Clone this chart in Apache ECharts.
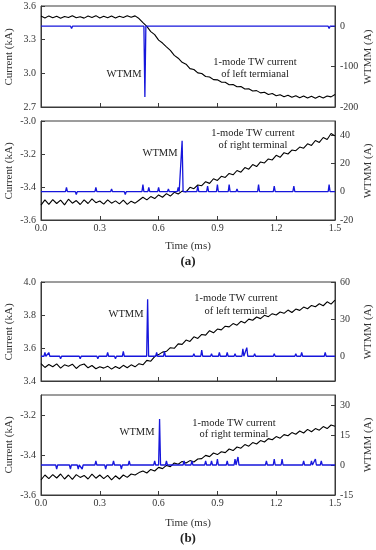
<!DOCTYPE html>
<html><head><meta charset="utf-8">
<script src="https://cdn.jsdelivr.net/npm/echarts@6/dist/echarts.min.js"></script>
<style>html,body{margin:0;padding:0;background:#fff;}#c{width:376px;height:550px;}</style>
</head><body><div id="c"></div>
<script>
// ---- data ----
const timeMs = [0,0.02,0.04,0.06,0.08,0.10,0.12,0.14,0.16,0.18,0.20,0.22,0.24,0.26,0.28,0.30,0.32,0.34,0.36,0.38,
0.40,0.42,0.44,0.46,0.48,0.50,0.52,0.54,0.56,0.58,0.60,0.62,0.64,0.66,0.68,0.70,0.72,0.74,0.76,0.78,
0.80,0.82,0.84,0.86,0.88,0.90,0.92,0.94,0.96,0.98,1.00,1.02,1.04,1.06,1.08,1.10,1.12,1.14,1.16,1.18,
1.20,1.22,1.24,1.26,1.28,1.30,1.32,1.34,1.36,1.38,1.40,1.42,1.44,1.46,1.48,1.50];

// (a) left terminal current (kA)
const curA_left = [3.510,3.494,3.512,3.496,3.508,3.490,3.506,3.497,3.514,3.495,3.505,3.492,3.510,3.498,3.514,3.493,3.508,3.496,3.511,3.494,
3.509,3.497,3.513,3.499,3.512,3.488,3.452,3.418,3.372,3.345,3.296,3.270,3.236,3.205,3.160,3.135,3.098,3.082,3.042,3.034,
3.004,2.998,2.972,2.968,2.944,2.942,2.922,2.920,2.898,2.900,2.880,2.882,2.860,2.862,2.842,2.846,2.826,2.832,2.812,2.820,
2.800,2.810,2.792,2.804,2.786,2.800,2.782,2.798,2.780,2.796,2.778,2.795,2.780,2.798,2.790,2.812];
// (a) right terminal current (kA)
const curA_right = [-3.510,-3.478,-3.505,-3.476,-3.500,-3.480,-3.508,-3.474,-3.498,-3.482,-3.506,-3.478,-3.500,-3.472,-3.495,-3.485,-3.504,-3.478,-3.498,-3.484,
-3.502,-3.480,-3.505,-3.486,-3.498,-3.480,-3.462,-3.478,-3.458,-3.470,-3.448,-3.462,-3.440,-3.455,-3.432,-3.442,-3.425,-3.430,-3.402,-3.410,
-3.388,-3.392,-3.368,-3.378,-3.350,-3.360,-3.335,-3.342,-3.318,-3.326,-3.300,-3.310,-3.282,-3.292,-3.264,-3.276,-3.248,-3.254,-3.230,-3.236,
-3.208,-3.220,-3.192,-3.200,-3.176,-3.180,-3.158,-3.165,-3.138,-3.148,-3.118,-3.130,-3.100,-3.112,-3.076,-3.090];
// (b) left terminal current (kA)
const curB_left = [3.505,3.482,3.500,3.486,3.504,3.478,3.498,3.490,3.502,3.476,3.496,3.503,3.480,3.494,3.474,3.486,3.478,3.490,3.472,3.488,
3.476,3.495,3.480,3.498,3.486,3.505,3.498,3.525,3.520,3.548,3.560,3.575,3.580,3.602,3.598,3.625,3.622,3.648,3.640,3.668,
3.658,3.682,3.678,3.705,3.692,3.715,3.710,3.732,3.728,3.748,3.738,3.762,3.752,3.775,3.768,3.788,3.778,3.798,3.790,3.808,
3.800,3.818,3.810,3.830,3.815,3.836,3.828,3.848,3.838,3.858,3.850,3.868,3.856,3.880,3.866,3.890];
// (b) right terminal current (kA)
const curB_right = [-3.525,-3.500,-3.518,-3.498,-3.515,-3.495,-3.520,-3.500,-3.522,-3.498,-3.512,-3.502,-3.520,-3.496,-3.516,-3.500,-3.518,-3.502,-3.524,-3.504,
-3.520,-3.500,-3.512,-3.495,-3.500,-3.488,-3.480,-3.490,-3.472,-3.480,-3.462,-3.468,-3.452,-3.458,-3.440,-3.446,-3.432,-3.440,-3.428,-3.435,
-3.420,-3.418,-3.402,-3.408,-3.390,-3.398,-3.384,-3.388,-3.370,-3.378,-3.360,-3.366,-3.348,-3.356,-3.338,-3.345,-3.328,-3.335,-3.318,-3.324,
-3.308,-3.316,-3.298,-3.304,-3.288,-3.296,-3.280,-3.290,-3.272,-3.284,-3.268,-3.276,-3.258,-3.268,-3.250,-3.256];

// WTMM peaks (time ms, value A)
const wtmmA_left_t = [0.156,0.24,0.40,0.53,0.79,1.05,1.29,1.47];
const wtmmA_left_v = [-6,2,2,-175,-4,-2,-3,-6];
const wtmmA_right_t = [0.04,0.13,0.18,0.23,0.28,0.36,0.43,0.52,0.55,0.60,0.65,0.70,0.72,0.80,0.85,0.90,0.96,1.00,1.03,1.11,1.19,1.29,1.34,1.40,1.47];
const wtmmA_right_v = [1,3,-2,1,3,2,-2,5,3,3,2,3,36,4,4,5,5,2,1,5,4,4,1,1,5];
const wtmmB_left_t = [0.02,0.04,0.10,0.20,0.24,0.29,0.34,0.38,0.42,0.47,0.544,0.59,0.63,0.69,0.73,0.78,0.82,0.87,0.91,0.95,0.99,1.03,1.05,1.09,1.19,1.30,1.33,1.38,1.45];
const wtmmB_left_v = [3,3,-2,-2,1,-2,3,-2,4,-1,46,3,4,1,1,2,5,2,3,3,2,6,7,2,2,2,3,1,3];
const wtmmB_right_t = [0.03,0.08,0.15,0.19,0.21,0.28,0.33,0.37,0.41,0.45,0.49,0.58,0.605,0.64,0.71,0.73,0.77,0.84,0.87,0.90,0.95,0.99,1.005,1.03,1.10,1.15,1.19,1.23,1.29,1.34,1.38,1.40,1.43];
const wtmmB_right_v = [1,-2,-2,-2,-2,2,-2,2,-2,2,1,2,23,2,1,2,2,2,2,3,2,3,4,1,1,2,3,3,1,2,2,3,2];

// axis tick labels
const xTicks = [0,0.3,0.6,0.9,1.2,1.5];
const yLeftTicks = [[2.7,3.0,3.3,3.6],[-3.6,-3.4,-3.2,-3.0],[3.4,3.6,3.8,4.0],[-3.6,-3.4,-3.2]];
const yLeftRange = [[2.7,3.6],[-3.6,-3.0],[3.4,4.0],[-3.6,-3.1]];
const yRightTicks = [[-200,-100,0],[-20,0,20,40],[0,30,60],[-15,0,15,30]];
const yRightRange = [[-200,50],[-20,50],[-20,60],[-15,35]];

const curves = [curA_left, curA_right, curB_left, curB_right];
const peaksT = [wtmmA_left_t, wtmmA_right_t, wtmmB_left_t, wtmmB_right_t];
const peaksV = [wtmmA_left_v, wtmmA_right_v, wtmmB_left_v, wtmmB_right_v];
const terminalText = ['of left termianal','of right terminal','of left terminal','of right terminal'];

// ---- layout ----
const FONT = '"Liberation Serif","DejaVu Serif",serif';
const AX = '#3a3a3a';
const BLUE = '#1616dc';
const grids = [
  {left:41, right:41, top:6, height:101},
  {left:41, right:41, top:121, height:99},
  {left:41, right:41, top:282, height:99},
  {left:41, right:41, top:395, height:100}
];
function spikeLine(ts, vs){
  const d = [[0,0]];
  const h = 0.005;
  for (let i=0;i<ts.length;i++){ d.push([ts[i]-h,0],[ts[i],vs[i]],[ts[i]+h,0]); }
  d.push([1.5,0]);
  return d;
}
const xAxes=[], yAxes=[], series=[];
grids.forEach((g,i)=>{
  g.show = true; g.borderColor = AX; g.borderWidth = 1; g.backgroundColor='transparent';
  g.containLabel = false; g.outerBoundsMode = 'none';
  const showX = (i===1||i===3);
  xAxes.push({gridIndex:i, type:'value', min:0, max:1.5,
    axisLine:{show:true, onZero:false, lineStyle:{color:AX,width:1}},
    axisTick:{show:true, inside:true, length:4, customValues:xTicks, lineStyle:{color:AX}},
    axisLabel:{show:showX, customValues:xTicks, margin:3, fontSize:10, fontFamily:FONT, color:'#333', formatter:v=>v.toFixed(1)},
    splitLine:{show:false},
    name: showX ? 'Time (ms)' : '', nameLocation:'middle', nameGap: i===1?21:23,
    nameTextStyle:{fontSize:11, fontFamily:FONT, color:'#333'}
  });
  yAxes.push({gridIndex:i, type:'value', position:'left', min:yLeftRange[i][0], max:yLeftRange[i][1],
    axisLine:{show:true, onZero:false, lineStyle:{color:AX}},
    axisTick:{show:true, inside:true, length:4, customValues:yLeftTicks[i], lineStyle:{color:AX}},
    axisLabel:{customValues:yLeftTicks[i], margin:5, fontSize:10, fontFamily:FONT, color:'#333', formatter:v=>v.toFixed(1)},
    splitLine:{show:false}
  });
  yAxes.push({gridIndex:i, type:'value', position:'right', min:yRightRange[i][0], max:yRightRange[i][1],
    axisLine:{show:true, onZero:false, lineStyle:{color:AX}},
    axisTick:{show:true, inside:true, length:4, customValues:yRightTicks[i], lineStyle:{color:AX}},
    axisLabel:{customValues:yRightTicks[i], margin:5, fontSize:10, fontFamily:FONT, color:'#333'},
    splitLine:{show:false}
  });
  series.push({type:'line', xAxisIndex:i, yAxisIndex:2*i, showSymbol:false, animation:false,
    data: timeMs.map((t,k)=>[t, curves[i][k]]), lineStyle:{color:'#000', width:1.1}});
  series.push({type:'line', xAxisIndex:i, yAxisIndex:2*i+1, showSymbol:false, animation:false,
    data: spikeLine(peaksT[i], peaksV[i]), lineStyle:{color:BLUE, width:1.3}});
});

const txt = (x,y,s,extra)=>Object.assign({type:'text', x:x, y:y, style:{text:s, font:'10.5px '+FONT, fill:'#222', align:'center', verticalAlign:'middle'}}, extra||{});
const vname = (x,y,s)=>({type:'text', x:x, y:y, rotation:Math.PI/2, style:{text:s, font:'11px '+FONT, fill:'#333', align:'center', verticalAlign:'middle'}});
const graphics = [
  txt(124,74,'WTMM'), txt(255,62,'1-mode TW current'), txt(255,74,terminalText[0]),
  txt(160,153,'WTMM'), txt(253,133,'1-mode TW current'), txt(253,145,terminalText[1]),
  txt(126,314,'WTMM'), txt(236,298,'1-mode TW current'), txt(236,311,terminalText[2]),
  txt(137,432,'WTMM'), txt(234,423,'1-mode TW current'), txt(234,434,terminalText[3]),
  vname(9,57,'Current (kA)'), vname(9,171,'Current (kA)'), vname(9,332,'Current (kA)'), vname(9,445,'Current (kA)'),
  vname(368,57,'WTMM (A)'), vname(368,171,'WTMM (A)'), vname(368,332,'WTMM (A)'), vname(368,445,'WTMM (A)'),
  {type:'text', x:188, y:262, style:{text:'(a)', font:'bold 13px '+FONT, fill:'#222', align:'center', verticalAlign:'middle'}},
  {type:'text', x:188, y:539, style:{text:'(b)', font:'bold 13px '+FONT, fill:'#222', align:'center', verticalAlign:'middle'}}
];

const chart = echarts.init(document.getElementById('c'), null, {renderer:'canvas'});
chart.setOption({animation:false, backgroundColor:'#fff', grid:grids, xAxis:xAxes, yAxis:yAxes, series:series, graphic:graphics});
</script></body></html>
